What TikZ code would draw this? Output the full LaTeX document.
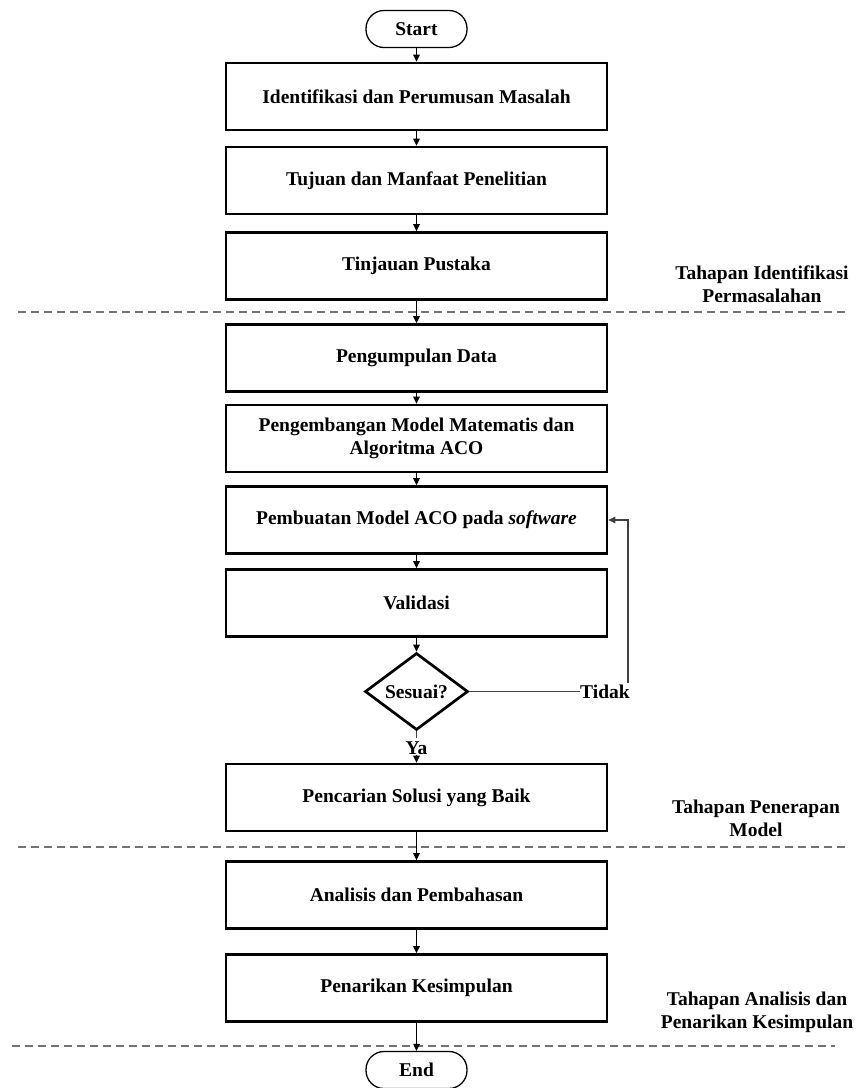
\documentclass[tikz,border=0pt]{standalone}
\usepackage{fontspec}
\setmainfont{Liberation Serif}
\usetikzlibrary{arrows.meta,shapes.geometric}
\begin{document}
\begin{tikzpicture}[x=1pt,y=-1pt,
  font=\fontsize{19.5}{23}\selectfont\bfseries,
  box/.style={draw,line width=2.7pt,minimum width=381pt,minimum height=67pt,inner sep=0pt,align=center},
  term/.style={draw,line width=1.3pt,rounded corners=18pt,minimum width=101pt,minimum height=37pt,inner sep=0pt},
  dec/.style={draw,diamond,aspect=1.34,line width=2.7pt,minimum width=103pt,minimum height=77pt,inner sep=0pt},
  flow/.style={line width=1.3pt,-{Triangle[length=7pt,width=6.5pt]}},
  link/.style={line width=1.3pt,black!75},
  sep/.style={black!55,line width=1.5pt,dash pattern=on 8pt off 5pt},
  lbl/.style={align=center,inner sep=0pt}]
\useasboundingbox (0,0) rectangle (856,1088);
% separators
\coordinate (s1a) at (18,312);  \coordinate (s1b) at (845,312);
\coordinate (s2a) at (18,847);  \coordinate (s2b) at (845,847);
\coordinate (s3a) at (12,1046); \coordinate (s3b) at (835,1046);
\draw[sep] (s1a) -- (s1b);
\draw[sep] (s2a) -- (s2b);
\draw[sep] (s3a) -- (s3b);
% nodes
\node[term] (start) at (416.5,29) {Start};
\node[box] (b1) at (416.5,96.5) {Identifikasi dan Perumusan Masalah};
\node[box] (b2) at (416.5,180.5) {Tujuan dan Manfaat Penelitian};
\node[box] (b3) at (416.5,266) {Tinjauan Pustaka};
\node[box] (b4) at (416.5,358) {Pengumpulan Data};
\node[box] (b5) at (416.5,438.5) {Pengembangan Model Matematis dan\\Algoritma ACO};
\node[box] (b6) at (416.5,520) {Pembuatan Model ACO pada \textit{software}};
\node[box] (b7) at (416.5,603) {Validasi};
\node[dec] (d) at (416.5,691.5) {Sesuai?};
\node[lbl] (ya) at (416.5,748) {Ya};
\node[lbl] (tidak) at (605,692) {Tidak};
\node[box] (b8) at (416.5,797.5) {Pencarian Solusi yang Baik};
\node[box] (b9) at (416.5,895) {Analisis dan Pembahasan};
\node[box] (b10) at (416.5,988) {Penarikan Kesimpulan};
\node[term] (end) at (416.5,1070) {End};
% side labels
\node[lbl] (l1) at (762,284.5) {Tahapan Identifikasi\\Permasalahan};
\node[lbl] (l2) at (756,818) {Tahapan Penerapan\\Model};
\node[lbl] (l3) at (757,1012) {Tahapan Analisis dan\\Penarikan Kesimpulan};
% connectors
\draw[flow] (start) -- (b1);
\draw[flow] (b1) -- (b2);
\draw[flow] (b2) -- (b3);
\draw[flow] (b3) -- (b4);
\draw[flow] (b4) -- (b5);
\draw[flow] (b5) -- (b6);
\draw[flow] (b6) -- (b7);
\draw[flow] (b7) -- (d);
\draw[link] (d.south) -- ([yshift=3pt]ya.north);
\draw[flow] (ya.south) -- (b8.north);
\draw[link] (d.east) -- (d.east -| tidak.west);
\draw[flow,black!75] ([xshift=-2pt,yshift=2pt]tidak.north east) |- (b6.east);
\draw[flow] (b8) -- (b9);
\draw[flow] (b9) -- (b10);
\draw[flow] (b10) -- (end);
\end{tikzpicture}
\end{document}
